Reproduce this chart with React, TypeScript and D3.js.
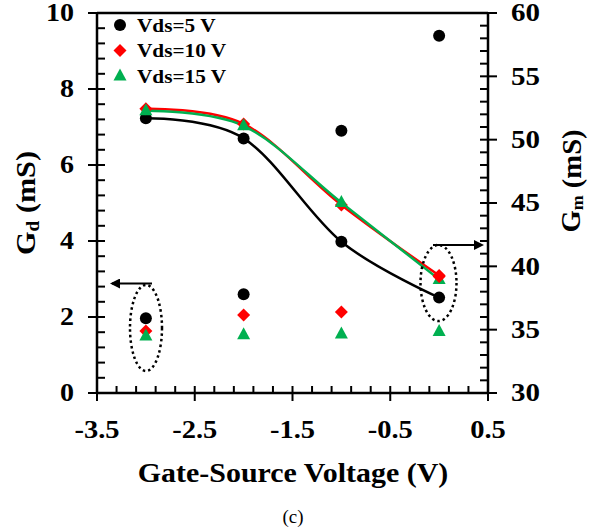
import React from "react";
import * as d3 from "d3";

const xVals = [-3, -2, -1, 0];
const gd5 = [7.23, 6.7, 3.98, 2.51];
const gd10 = [7.48, 7.08, 4.95, 3.09];
const gd15 = [7.43, 7.03, 5.01, 2.99];
const gm5 = [35.9, 37.8, 50.7, 58.2];
const gm10 = [34.9, 36.15, 36.4, 39.2];
const gm15 = [34.5, 34.6, 34.65, 34.85];
const seriesNames = ["Vds=5 V", "Vds=10 V", "Vds=15 V"];
const xTicks = [-3.5, -2.5, -1.5, -0.5, 0.5];
const yLeftTicks = [0, 2, 4, 6, 8, 10];
const yRightTicks = [30, 35, 40, 45, 50, 55, 60];

const W = 589, H = 529;
const L = 97, R = 488, T = 13, B = 393;
const FONT = "'Liberation Serif', 'Times New Roman', serif";

const colors = ["#000000", "#FF0000", "#00B050"];
const shapes = ["circle", "diamond", "triangle"];

function Marker({ shape, x, y, color }: { shape: string; x: number; y: number; color: string }) {
  if (shape === "circle") return <circle cx={x} cy={y} r={6} fill={color} />;
  if (shape === "diamond") {
    const p = d3.path();
    p.moveTo(x, y - 6.5); p.lineTo(x + 6.5, y); p.lineTo(x, y + 6.5); p.lineTo(x - 6.5, y); p.closePath();
    return <path d={p.toString()} fill={color} />;
  }
  const p = d3.path();
  p.moveTo(x, y - 7.5); p.lineTo(x + 6.5, y + 4.5); p.lineTo(x - 6.5, y + 4.5); p.closePath();
  return <path d={p.toString()} fill={color} />;
}

function Txt({ x, y, sx = 1.12, rot = 0, anchor = "middle", size, bold = true, children }: any) {
  return (
    <text
      transform={`translate(${x},${y}) rotate(${rot}) scale(${sx},1)`}
      textAnchor={anchor}
      dominantBaseline="central"
      fontSize={size}
      fontWeight={bold ? "bold" : "normal"}
    >
      {children}
    </text>
  );
}

export default function App() {
  const x = d3.scaleLinear().domain([-3.5, 0.5]).range([L, R]);
  const yL = d3.scaleLinear().domain([0, 10]).range([B, T]);
  const yR = d3.scaleLinear().domain([30, 60]).range([B, T]);

  const gdSeries = [gd5, gd10, gd15];
  const gmSeries = [gm5, gm10, gm15];

  const line = d3
    .line<[number, number]>()
    .x((d) => x(d[0]))
    .y((d) => yL(d[1]))
    .curve(d3.curveCardinal.tension(0));

  const xMinor = d3.range(-3.5, 0.5001, 0.2).filter((v) => Math.abs((v + 3.5) % 1) > 0.01 && Math.abs(((v + 3.5) % 1) - 1) > 0.01);
  const yLMinor = d3.range(0, 10.001, 0.4).filter((v) => Math.abs(v % 2) > 0.01 && Math.abs((v % 2) - 2) > 0.01);
  const yRMinor = d3.range(30, 60.001, 1).filter((v) => v % 5 !== 0);

  const axisStroke = 2.5;

  return (
    <svg width={W} height={H} style={{ position: "absolute", left: 0, top: 0, background: "#fff" }} fontFamily={FONT}>
      <defs>
        <marker id="arrow" viewBox="0 0 10 10" refX="8" refY="5" markerWidth="5" markerHeight="5" orient="auto-start-reverse">
          <path d="M0,0 L10,5 L0,10 z" fill="#000" />
        </marker>
      </defs>
      <rect x={0} y={0} width={W} height={H} fill="#fff" />

      {/* frame */}
      <line x1={L} x2={R} y1={T} y2={T} stroke="#000" strokeWidth={axisStroke} />
      <line x1={L} x2={R} y1={B} y2={B} stroke="#000" strokeWidth={axisStroke} />
      <line x1={L} x2={L} y1={T} y2={B} stroke="#000" strokeWidth={axisStroke} />
      <line x1={R} x2={R} y1={T} y2={B} stroke="#000" strokeWidth={axisStroke} />

      {/* x ticks */}
      {xTicks.map((t) => (
        <g key={"xt" + t}>
          <line x1={x(t)} x2={x(t)} y1={B - 7} y2={B + 8} stroke="#000" strokeWidth={2} />
          <Txt x={x(t)} y={430} size={25} sx={1.14}>{t.toString()}</Txt>
        </g>
      ))}
      {xMinor.map((t, i) => (
        <line key={"xm" + i} x1={x(t)} x2={x(t)} y1={B - 7} y2={B} stroke="#000" strokeWidth={2} />
      ))}

      {/* left y ticks */}
      {yLeftTicks.map((t) => (
        <g key={"yl" + t}>
          <line x1={L - 9} x2={L + 8} y1={yL(t)} y2={yL(t)} stroke="#000" strokeWidth={2} />
          <Txt x={74} y={yL(t)} anchor="end" size={25} sx={1.12}>{t}</Txt>
        </g>
      ))}
      {yLMinor.map((t, i) => (
        <line key={"ylm" + i} x1={L} x2={L + 8} y1={yL(t)} y2={yL(t)} stroke="#000" strokeWidth={2} />
      ))}

      {/* right y ticks */}
      {yRightTicks.map((t) => (
        <g key={"yr" + t}>
          <line x1={R - 8} x2={R + 9} y1={yR(t)} y2={yR(t)} stroke="#000" strokeWidth={2} />
          <Txt x={511} y={yR(t)} anchor="start" size={25} sx={1.16}>{t}</Txt>
        </g>
      ))}
      {yRMinor.map((t, i) => (
        <line key={"yrm" + i} x1={R - 8} x2={R} y1={yR(t)} y2={yR(t)} stroke="#000" strokeWidth={2} />
      ))}

      {/* axis titles */}
      <Txt x={25} y={203} rot={-90} size={28} sx={1.08}>
        G<tspan fontSize={18} dy={7}>d</tspan>
        <tspan dy={-7}> (mS)</tspan>
      </Txt>
      <Txt x={571} y={181} rot={-90} size={27} sx={1.06}>
        G<tspan fontSize={17} dy={6}>m</tspan>
        <tspan dy={-6}> (mS)</tspan>
      </Txt>
      <Txt x={293} y={472} size={28} sx={1.07}>Gate-Source Voltage (V)</Txt>
      <Txt x={293} y={517} size={18} sx={1.05} bold={false}>(c)</Txt>

      {/* Gd lines */}
      {gdSeries.map((s, i) => (
        <path
          key={"ln" + i}
          d={line(xVals.map((v, j) => [v, s[j]] as [number, number])) || ""}
          fill="none"
          stroke={colors[i]}
          strokeWidth={2.5}
        />
      ))}
      {/* Gd markers */}
      {gdSeries.map((s, i) =>
        s.map((v, j) => <Marker key={"gd" + i + "-" + j} shape={shapes[i]} x={x(xVals[j])} y={yL(v)} color={colors[i]} />)
      )}
      {/* Gm markers */}
      {gmSeries.map((s, i) =>
        s.map((v, j) => <Marker key={"gm" + i + "-" + j} shape={shapes[i]} x={x(xVals[j])} y={yR(v)} color={colors[i]} />)
      )}

      {/* annotations */}
      <ellipse cx={146} cy={328} rx={16} ry={43} fill="none" stroke="#000" strokeWidth={2.5} strokeDasharray="2.5,3" />
      <line x1={152} x2={112} y1={283.5} y2={283.5} stroke="#000" strokeWidth={2} markerEnd="url(#arrow)" />
      <ellipse cx={438.5} cy={283} rx={18} ry={38} fill="none" stroke="#000" strokeWidth={2.5} strokeDasharray="2.5,3" />
      <line x1={433} x2={482} y1={245} y2={245} stroke="#000" strokeWidth={2} markerEnd="url(#arrow)" />

      {/* legend */}
      {seriesNames.map((n, i) => (
        <g key={"lg" + i}>
          <Marker shape={shapes[i]} x={120} y={25 + i * 25.5} color={colors[i]} />
          <Txt x={137} y={25 + i * 25.5} anchor="start" size={19} sx={1.12}>{n}</Txt>
        </g>
      ))}
    </svg>
  );
}
